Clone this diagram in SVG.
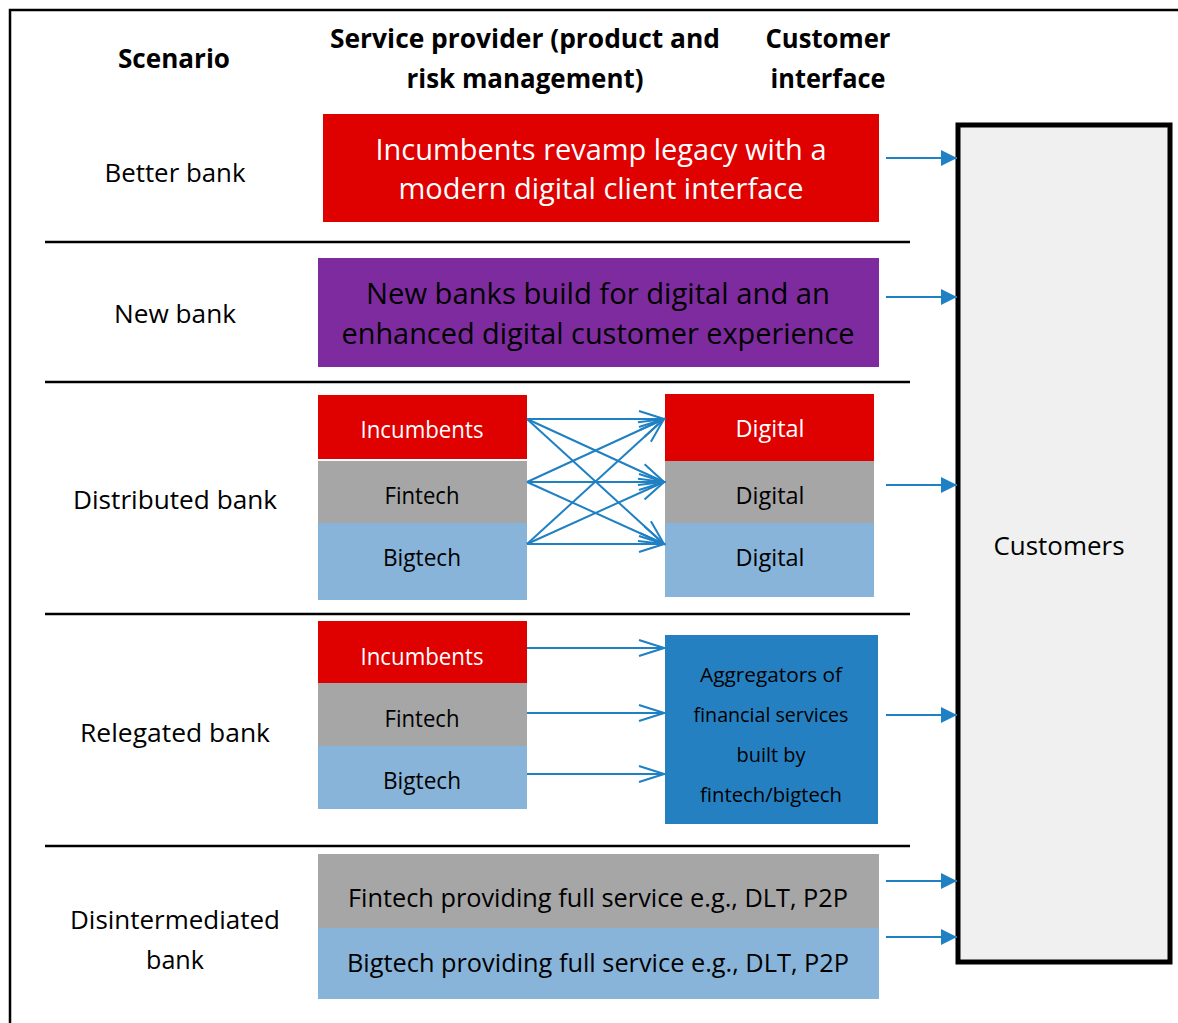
<svg xmlns="http://www.w3.org/2000/svg" width="1178" height="1023" viewBox="0 0 1178 1023">
<style>
text{font-family:"Open Sans","Noto Sans","DejaVu Sans",sans-serif;text-anchor:middle}
.hd{font-weight:bold;font-size:27px;fill:#000}
.sc{font-size:26px;fill:#000}
.big{font-size:30px}
.sub{font-size:23px}
.agg{font-size:20px;fill:#000}
.w{fill:#fff}
.k{fill:#000}
.sep{stroke:#000;stroke-width:2.5}
.con{stroke:#1f80c3;stroke-width:2;fill:none}
.red{fill:#df0000}
.pur{fill:#7f2ba0}
.gry{fill:#a6a6a6}
.lbl{fill:#88b4da}
.blu{fill:#2580c2}
</style>
<defs>
<marker id="open" markerUnits="userSpaceOnUse" viewBox="-28 -10 30 20" markerWidth="30" markerHeight="20" refX="0" refY="0" orient="auto">
<path d="M-25,-8 L0,0 L-25,8" fill="none" stroke="#1f80c3" stroke-width="2"/>
</marker>
<marker id="fill" markerUnits="userSpaceOnUse" viewBox="-18 -10 20 20" markerWidth="20" markerHeight="20" refX="0" refY="0" orient="auto">
<path d="M-16,-8 L0,0 L-16,8 Z" fill="#1f80c3"/>
</marker>
</defs>
<rect x="0" y="0" width="1178" height="1023" fill="#fff"/>
<g id="frame">
<path d="M10,1023 V10 H1178" fill="none" stroke="#000" stroke-width="2.5"/>
</g>
<g id="headers">
<text class="hd" x="174" y="68" textLength="112" lengthAdjust="spacingAndGlyphs">Scenario</text>
<text class="hd" x="525" y="48" textLength="390" lengthAdjust="spacingAndGlyphs">Service provider (product and</text>
<text class="hd" x="525" y="88" textLength="237" lengthAdjust="spacingAndGlyphs">risk management)</text>
<text class="hd" x="828" y="48" textLength="125" lengthAdjust="spacingAndGlyphs">Customer</text>
<text class="hd" x="828" y="88" textLength="115" lengthAdjust="spacingAndGlyphs">interface</text>
</g>
<g id="separators">
<line class="sep" x1="45" y1="242" x2="910" y2="242"/>
<line class="sep" x1="45" y1="382" x2="910" y2="382"/>
<line class="sep" x1="45" y1="614" x2="910" y2="614"/>
<line class="sep" x1="45" y1="846" x2="910" y2="846"/>
</g>
<g id="scenario-labels">
<text class="sc" x="175" y="182" textLength="141" lengthAdjust="spacingAndGlyphs">Better bank</text>
<text class="sc" x="175" y="323" textLength="122" lengthAdjust="spacingAndGlyphs">New bank</text>
<text class="sc" x="175" y="509" textLength="204" lengthAdjust="spacingAndGlyphs">Distributed bank</text>
<text class="sc" x="175" y="742" textLength="190" lengthAdjust="spacingAndGlyphs">Relegated bank</text>
<text class="sc" x="175" y="929" textLength="210" lengthAdjust="spacingAndGlyphs">Disintermediated</text>
<text class="sc" x="175" y="969" textLength="58" lengthAdjust="spacingAndGlyphs">bank</text>
</g>
<g id="better-bank">
<rect class="red" x="323" y="114" width="556" height="108"/>
<text class="big w" x="601" y="160" textLength="451" lengthAdjust="spacingAndGlyphs">Incumbents revamp legacy with a</text>
<text class="big w" x="601" y="199" textLength="405" lengthAdjust="spacingAndGlyphs">modern digital client interface</text>
</g>
<g id="new-bank">
<rect class="pur" x="318" y="258" width="561" height="109"/>
<text class="big k" x="598" y="304" textLength="464" lengthAdjust="spacingAndGlyphs">New banks build for digital and an</text>
<text class="big k" x="598" y="344" textLength="513" lengthAdjust="spacingAndGlyphs">enhanced digital customer experience</text>
</g>
<g id="dist-incumbents">
<rect class="red" x="318" y="395" width="209" height="64"/>
<text class="sub w" x="422" y="438" textLength="123" lengthAdjust="spacingAndGlyphs">Incumbents</text>
</g>
<g id="dist-fintech">
<rect class="gry" x="318" y="461" width="209" height="62"/>
<text class="sub k" x="422" y="504" textLength="75" lengthAdjust="spacingAndGlyphs">Fintech</text>
</g>
<g id="dist-bigtech">
<rect class="lbl" x="318" y="523" width="209" height="77"/>
<text class="sub k" x="422" y="566" textLength="78" lengthAdjust="spacingAndGlyphs">Bigtech</text>
</g>
<g id="dist-digital-1">
<rect class="red" x="665" y="394" width="209" height="67"/>
<text class="sub w" x="770" y="437" textLength="69" lengthAdjust="spacingAndGlyphs">Digital</text>
</g>
<g id="dist-digital-2">
<rect class="gry" x="665" y="461" width="209" height="62"/>
<text class="sub k" x="770" y="504" textLength="69" lengthAdjust="spacingAndGlyphs">Digital</text>
</g>
<g id="dist-digital-3">
<rect class="lbl" x="665" y="523" width="209" height="74"/>
<text class="sub k" x="770" y="566" textLength="69" lengthAdjust="spacingAndGlyphs">Digital</text>
</g>
<g id="rel-incumbents">
<rect class="red" x="318" y="621" width="209" height="62"/>
<text class="sub w" x="422" y="665" textLength="123" lengthAdjust="spacingAndGlyphs">Incumbents</text>
</g>
<g id="rel-fintech">
<rect class="gry" x="318" y="683" width="209" height="63"/>
<text class="sub k" x="422" y="727" textLength="75" lengthAdjust="spacingAndGlyphs">Fintech</text>
</g>
<g id="rel-bigtech">
<rect class="lbl" x="318" y="746" width="209" height="63"/>
<text class="sub k" x="422" y="789" textLength="78" lengthAdjust="spacingAndGlyphs">Bigtech</text>
</g>
<g id="aggregators">
<rect class="blu" x="665" y="635" width="213" height="189"/>
<text class="agg" x="771" y="682" textLength="142" lengthAdjust="spacingAndGlyphs">Aggregators of</text>
<text class="agg" x="771" y="722" textLength="155" lengthAdjust="spacingAndGlyphs">financial services</text>
<text class="agg" x="771" y="762" textLength="69" lengthAdjust="spacingAndGlyphs">built by</text>
<text class="agg" x="771" y="802" textLength="142" lengthAdjust="spacingAndGlyphs">fintech/bigtech</text>
</g>
<g id="disint-fintech">
<rect class="gry" x="318" y="854" width="561" height="74"/>
<text class="sc" x="598" y="907" textLength="500" lengthAdjust="spacingAndGlyphs">Fintech providing full service e.g., DLT, P2P</text>
</g>
<g id="disint-bigtech">
<rect class="lbl" x="318" y="928" width="561" height="71"/>
<text class="sc" x="598" y="972" textLength="502" lengthAdjust="spacingAndGlyphs">Bigtech providing full service e.g., DLT, P2P</text>
</g>
<g id="customers">
<rect x="958" y="125" width="212" height="837" fill="#f0f0f0" stroke="#000" stroke-width="5"/>
<text class="sc" x="1059" y="555" textLength="131" lengthAdjust="spacingAndGlyphs">Customers</text>
</g>
<g id="connectors">
<line class="con" x1="527" y1="419" x2="664" y2="419" marker-end="url(#open)"/>
<line class="con" x1="527" y1="419" x2="664" y2="482" marker-end="url(#open)"/>
<line class="con" x1="527" y1="419" x2="664" y2="544" marker-end="url(#open)"/>
<line class="con" x1="527" y1="482" x2="664" y2="419" marker-end="url(#open)"/>
<line class="con" x1="527" y1="482" x2="664" y2="482" marker-end="url(#open)"/>
<line class="con" x1="527" y1="482" x2="664" y2="544" marker-end="url(#open)"/>
<line class="con" x1="527" y1="544" x2="664" y2="419" marker-end="url(#open)"/>
<line class="con" x1="527" y1="544" x2="664" y2="482" marker-end="url(#open)"/>
<line class="con" x1="527" y1="544" x2="664" y2="544" marker-end="url(#open)"/>
<line class="con" x1="527" y1="648" x2="664" y2="648" marker-end="url(#open)"/>
<line class="con" x1="527" y1="713" x2="664" y2="713" marker-end="url(#open)"/>
<line class="con" x1="527" y1="774" x2="664" y2="774" marker-end="url(#open)"/>
<line class="con" x1="886" y1="158" x2="957" y2="158" marker-end="url(#fill)"/>
<line class="con" x1="886" y1="297" x2="957" y2="297" marker-end="url(#fill)"/>
<line class="con" x1="886" y1="485" x2="957" y2="485" marker-end="url(#fill)"/>
<line class="con" x1="886" y1="715" x2="957" y2="715" marker-end="url(#fill)"/>
<line class="con" x1="886" y1="881" x2="957" y2="881" marker-end="url(#fill)"/>
<line class="con" x1="886" y1="937" x2="957" y2="937" marker-end="url(#fill)"/>
</g>
</svg>
